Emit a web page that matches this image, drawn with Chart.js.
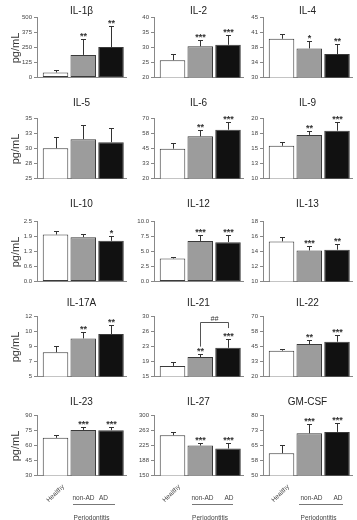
<!DOCTYPE html>
<html>
<head>
<meta charset="utf-8">
<script src="https://cdn.jsdelivr.net/npm/chart.js@4.4.1/dist/chart.umd.min.js"></script>
<style>
  body { margin: 0; background: #fff; font-family: 'Liberation Sans', Arial, sans-serif; }
  #wrap { position: relative; width: 357px; height: 520px; overflow: hidden; }
  canvas { position: absolute; }
  .ttl { position: absolute; font-size: 10px; color: #222; transform: translate(-50%, -50%); white-space: nowrap; }
  .ylab { position: absolute; font-size: 11px; color: #333; transform: translate(-50%, -50%) rotate(-90deg); white-space: nowrap; }
  .xl { position: absolute; font-size: 6.5px; color: #444; transform: translate(-50%, -50%); white-space: nowrap; }
  .rule { position: absolute; height: 1px; background: #777; }
</style>
</head>
<body>
<div id="wrap"></div>
<script>
// panels left-to-right, top-to-bottom
const panelNames = ['IL-1β', 'IL-2', 'IL-4', 'IL-5', 'IL-6', 'IL-9', 'IL-10', 'IL-12', 'IL-13',
                    'IL-17A', 'IL-21', 'IL-22', 'IL-23', 'IL-27', 'GM-CSF'];
const groups = ['Healthy', 'non-AD', 'AD'];

const healthyMean = [41, 25.7, 39.6, 30.0, 44.6, 15.4, 1.94, 3.8, 15.3, 7.8, 17.6, 41.3, 67.3, 249.7, 61.0];
const nonAdMean   = [186, 30.3, 37.2, 31.5, 54.8, 17.2, 1.83, 6.7, 14.1, 9.4, 19.8, 46.8, 75.2, 224.2, 70.9];
const adMean      = [251, 30.8, 35.8, 31.0, 60.3, 17.9, 1.68, 6.5, 14.2, 9.9, 22.1, 48.7, 74.9, 216.8, 71.6];

const healthyErr = [22, 2.0, 1.3, 1.9, 4.4, 0.7, 0.14, 0.3, 0.55, 0.7, 1.1, 1.4, 2.7, 7.3, 4.0];
const nonAdErr   = [128, 2.0, 1.8, 2.4, 5.5, 0.7, 0.13, 0.9, 0.55, 0.7, 0.7, 3.0, 3.0, 5.8, 4.5];
const adErr      = [178, 3.3, 2.6, 2.3, 6.1, 1.4, 0.19, 1.1, 0.7, 1.1, 2.3, 5.7, 3.6, 13.2, 4.3];

const nonAdStars = ['**', '***', '*', '', '**', '**', '', '***', '***', '**', '**', '**', '***', '***', '***'];
const adStars    = ['**', '***', '**', '', '***', '***', '*', '***', '**', '**', '***', '***', '***', '***', '***'];

const tickLabels = [
  ['0', '125', '250', '375', '500'],
  ['20', '25', '30', '35', '40'],
  ['30', '34', '38', '41', '45'],
  ['25', '28', '30', '33', '35'],
  ['20', '33', '45', '58', '70'],
  ['10', '13', '15', '18', '20'],
  ['0.0', '0.6', '1.3', '1.9', '2.5'],
  ['0.0', '2.5', '5.0', '7.5', '10.0'],
  ['10', '12', '14', '16', '18'],
  ['5', '7', '9', '10', '12'],
  ['15', '19', '23', '26', '30'],
  ['20', '33', '45', '58', '70'],
  ['30', '45', '60', '75', '90'],
  ['150', '188', '225', '263', '300'],
  ['50', '58', '65', '73', '80']
];

// IL-21: non-AD vs AD comparison
const bracketPanel = 10;
const bracketLevels = [28.6, 22.4, 27.0]; // top, left leg end, right leg end
const bracketLabel = '##';

const means = [healthyMean, nonAdMean, adMean];
const errs = [healthyErr, nonAdErr, adErr];
const stars = [groups.map(() => ''), nonAdStars, adStars];

// layout
const colAxis = [37, 154, 263];
const rowTop = [17, 118, 221, 316, 415];
const titleY = [10, 102, 203, 302, 401];
const plotW = 89, plotH = 61, axisW = 30, padTop = 10, padBot = 5;
const FONT = "'Liberation Sans', Arial, sans-serif";

const wrap = document.getElementById('wrap');

function addDiv(cls, text, x, y) {
  const d = document.createElement('div');
  d.className = cls;
  d.textContent = text;
  d.style.left = x + 'px';
  d.style.top = y + 'px';
  wrap.appendChild(d);
  return d;
}

function makePanel(p) {
  const row = Math.floor(p / 3), col = p % 3;
  const ticks = tickLabels[p];
  const yMin = parseFloat(ticks[0]), yMax = parseFloat(ticks[ticks.length - 1]);

  const cv = document.createElement('canvas');
  cv.width = axisW + plotW + 2;
  cv.height = plotH + padTop + padBot;
  cv.style.left = (colAxis[col] - axisW) + 'px';
  cv.style.top = (rowTop[row] - padTop) + 'px';
  wrap.appendChild(cv);

  const errPlugin = {
    id: 'errbars' + p,
    afterDatasetsDraw(chart) {
      const ctx = chart.ctx, ys = chart.scales.y, xs = chart.scales.x;
      const bars = chart.getDatasetMeta(0).data;
      ctx.save();
      ctx.strokeStyle = '#333';
      ctx.fillStyle = '#333';
      ctx.lineWidth = 1;
      bars.forEach((b, i) => {
        const top = Math.round(ys.getPixelForValue(means[i][p] + errs[i][p])) + 0.5;
        const x = Math.round(b.x) + 0.5;
        ctx.beginPath();
        ctx.moveTo(x, b.y); ctx.lineTo(x, top);
        ctx.moveTo(x - 2.5, top); ctx.lineTo(x + 2.5, top);
        ctx.stroke();
        if (stars[i][p]) {
          ctx.font = 'bold 9px ' + FONT;
          ctx.textAlign = 'center';
          ctx.textBaseline = 'alphabetic';
          ctx.fillText(stars[i][p], x, top - 0.5);
        }
      });
      if (p === bracketPanel) {
        const x1 = Math.round(xs.getPixelForValue(1)) + 0.5;
        const x2 = Math.round(xs.getPixelForValue(2)) + 0.5;
        const yt = Math.round(ys.getPixelForValue(bracketLevels[0])) + 0.5;
        ctx.strokeStyle = '#555';
        ctx.beginPath();
        ctx.moveTo(x1, ys.getPixelForValue(bracketLevels[1]));
        ctx.lineTo(x1, yt); ctx.lineTo(x2, yt);
        ctx.lineTo(x2, ys.getPixelForValue(bracketLevels[2]));
        ctx.stroke();
        ctx.font = 'italic 7px ' + FONT;
        ctx.textAlign = 'center';
        ctx.fillText(bracketLabel, (x1 + x2) / 2, yt - 2);
      }
      ctx.restore();
    }
  };

  new Chart(cv, {
    type: 'bar',
    data: {
      datasets: [{
        data: groups.map((g, i) => ({ x: i, y: means[i][p] })),
        backgroundColor: ['#ffffff', '#9c9c9c', '#111111'],
        borderColor: '#3a3a3a',
        borderWidth: 1,
        borderSkipped: false,
        barPercentage: 0.92,
        categoryPercentage: 1
      }]
    },
    options: {
      responsive: false,
      animation: false,
      events: [],
      layout: { padding: { top: padTop, bottom: padBot, left: 0, right: 2 } },
      plugins: { legend: { display: false }, tooltip: { enabled: false } },
      scales: {
        x: {
          type: 'linear', min: -0.667, max: 2.54, offset: false,
          afterBuildTicks: s => { s.ticks = [0, 1, 2].map(v => ({ value: v })); },
          afterFit: s => { s.height = 0; },
          ticks: { display: false },
          grid: { display: false, offset: false },
          border: { color: '#888' }
        },
        y: {
          min: yMin, max: yMax,
          afterBuildTicks: s => {
            s.ticks = ticks.map((t, i) => ({ value: yMin + (yMax - yMin) * i / (ticks.length - 1) }));
          },
          afterFit: s => { s.width = axisW; },
          ticks: {
            font: { size: 6, family: FONT },
            color: '#444',
            padding: 2,
            callback: (v, i) => ticks[i]
          },
          grid: { drawOnChartArea: false, tickLength: 3, color: '#888' },
          border: { color: '#888' }
        }
      }
    },
    plugins: [errPlugin]
  });

  addDiv('ttl', panelNames[p], colAxis[col] + plotW / 2, titleY[row]);
}

for (let p = 0; p < panelNames.length; p++) makePanel(p);

// y-axis titles
rowTop.forEach(t => addDiv('ylab', 'pg/mL', 15, t + plotH / 2));

// bottom group labels
const labelPos = [
  { h: 18, n: 46.5, a: 66.5, l1: 36, l2: 78, per: 54.5 },
  { h: 17, n: 48.5, a: 75, l1: 38, l2: 79, per: 56 },
  { h: 17, n: 48.5, a: 75, l1: 36, l2: 80, per: 55.5 }
];
labelPos.forEach((lp, c) => {
  const ax = colAxis[c];
  const h = addDiv('xl', groups[0], ax + lp.h, 493);
  h.style.transform = 'translate(-50%, -50%) rotate(-45deg)';
  addDiv('xl', groups[1], ax + lp.n, 497);
  addDiv('xl', groups[2], ax + lp.a, 497);
  const r = document.createElement('div');
  r.className = 'rule';
  r.style.left = (ax + lp.l1) + 'px';
  r.style.top = '504px';
  r.style.width = (lp.l2 - lp.l1) + 'px';
  wrap.appendChild(r);
  addDiv('xl', 'Periodontitis', ax + lp.per, 517);
});
</script>
</body>
</html>
